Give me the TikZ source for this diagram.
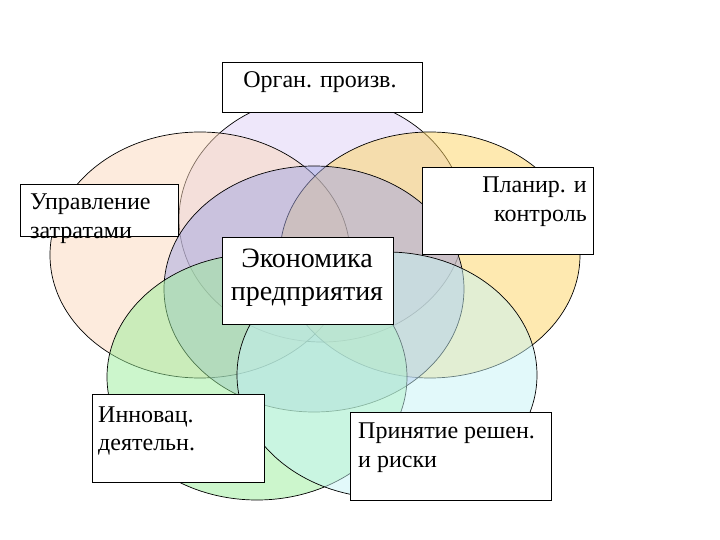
\documentclass[tikz,border=0pt]{standalone}
\usepackage{fontspec}
\setmainfont{Liberation Serif}
\definecolor{lavC}{HTML}{DED0F6}
\definecolor{peachC}{HTML}{FBD7BB}
\definecolor{yellowC}{HTML}{FDD361}
\definecolor{centC}{HTML}{A2A6E4}
\definecolor{greenC}{HTML}{99EE99}
\definecolor{cyanC}{HTML}{C6F4F6}
\begin{document}
\begin{tikzpicture}[x=1pt,y=-1pt,
  oval/.style={draw=black, line width=0.7pt, fill opacity=0.5, draw opacity=1},
  box/.style={draw=black, line width=1.1pt, fill=white, rectangle, inner sep=0pt, anchor=north west},
  lbl/.style={inner sep=0pt, font=\fontsize{24}{28}\selectfont},
  biglbl/.style={inner sep=0pt, font=\fontsize{28}{33}\selectfont}]
\useasboundingbox (0,0) rectangle (720,540);
% ellipses
\path[oval, fill=lavC]    (322,219) ellipse [x radius=143pt, y radius=123pt];
\path[oval, fill=peachC]  (200,255) ellipse [x radius=150pt, y radius=123pt];
\path[oval, fill=yellowC] (430,255) ellipse [x radius=150pt, y radius=123pt];
\path[oval, fill=centC]   (314,289) ellipse [x radius=150pt, y radius=123pt];
\path[oval, fill=greenC]  (257,377) ellipse [x radius=150pt, y radius=123pt];
\path[oval, fill=cyanC]   (387,375) ellipse [x radius=150pt, y radius=123pt];
% boxes
\node[box, minimum width=200pt, minimum height=50pt] (bOrg) at (222,62) {};
\node[box, minimum width=158pt, minimum height=52pt] (bUpr) at (20,184) {};
\node[box, minimum width=171pt, minimum height=87pt] (bPlan) at (422,167) {};
\node[box, minimum width=171pt, minimum height=87pt] (bEcon) at (222,237) {};
\node[box, minimum width=172pt, minimum height=88pt] (bInn) at (92,394) {};
\node[box, minimum width=201pt, minimum height=88pt] (bPrin) at (350,412) {};
% texts
\node[lbl, anchor=base] (tOrg) at (320,88) {Орган. произв.};
\node[lbl, anchor=base west] (tUpr1) at (30,210) {Управление};
\node[lbl, anchor=base west] (tUpr2) at (30,238) {затратами};
\node[lbl, anchor=base east] (tPlan1) at (587,193) {Планир. и};
\node[lbl, anchor=base east] (tPlan2) at (587,222) {контроль};
\node[biglbl, anchor=base] (tEcon1) at (307,267) {Экономика};
\node[biglbl, anchor=base] (tEcon2) at (307,300) {предприятия};
\node[lbl, anchor=base west] (tInn1) at (98,422) {Инновац.};
\node[lbl, anchor=base west] (tInn2) at (98,450) {деятельн.};
\node[lbl, anchor=base west] (tPrin1) at (358,438) {Принятие решен.};
\node[lbl, anchor=base west] (tPrin2) at (358,467) {и риски};
\end{tikzpicture}
\end{document}
